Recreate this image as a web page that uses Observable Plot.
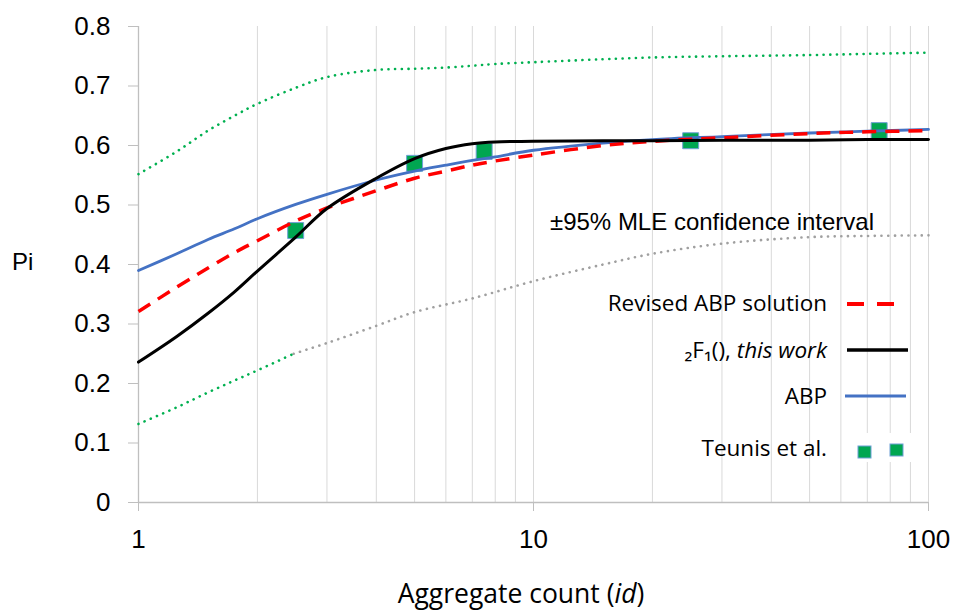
<!DOCTYPE html>
<html><head><meta charset="utf-8">
<script src="https://cdn.jsdelivr.net/npm/d3@7"></script>
<script src="https://cdn.jsdelivr.net/npm/@observablehq/plot@0.6"></script>
<style>body{margin:0;background:#fff}</style>
</head><body><div id="chart"></div>
<script>
// Aggregate count (x) sample points for the model curves
const xs = [1, 1.25, 1.5, 1.75, 2, 2.5, 3, 4, 5, 6, 7, 8, 10, 15, 20, 30, 50, 70, 100];
// 2F1(), this work
const f21Y = [0.236, 0.279, 0.318, 0.354, 0.389, 0.446, 0.494, 0.545, 0.578, 0.595, 0.603, 0.606, 0.607, 0.608, 0.608, 0.609, 0.609, 0.61, 0.61];
// ABP
const abpY = [0.39, 0.418, 0.442, 0.46, 0.477, 0.501, 0.518, 0.542, 0.557, 0.567, 0.575, 0.581, 0.592, 0.604, 0.61, 0.615, 0.621, 0.624, 0.627];
// Revised ABP solution
const revY = [0.321, 0.362, 0.394, 0.42, 0.44, 0.473, 0.495, 0.524, 0.545, 0.557, 0.567, 0.574, 0.584, 0.6, 0.607, 0.613, 0.62, 0.623, 0.625];
// +95% confidence bound (upper)
const upperY = [0.552, 0.59, 0.625, 0.65, 0.67, 0.697, 0.715, 0.727, 0.729, 0.731, 0.734, 0.737, 0.74, 0.745, 0.748, 0.75, 0.752, 0.754, 0.756];
// -95% confidence bound (lower), green part
const lowerGreenX = [1, 1.25, 1.5, 1.75, 2, 2.47];
const lowerGreenY = [0.132, 0.16, 0.185, 0.205, 0.222, 0.25];
// -95% confidence bound (lower), grey part
const lowerGreyX = [2.47, 3, 4, 5, 7, 10, 15, 20, 30, 50, 70, 100];
const lowerGreyY = [0.25, 0.268, 0.297, 0.32, 0.343, 0.372, 0.4, 0.418, 0.435, 0.446, 0.448, 0.449];
// Teunis et al. data
const teunisX = [2.5, 5, 7.5, 25, 75];
const teunisY = [0.457, 0.57, 0.59, 0.608, 0.625];
// Axis ticks
const xTicks = [1, 10, 100];
const yTicks = [0, 0.1, 0.2, 0.3, 0.4, 0.5, 0.6, 0.7, 0.8];
const gridX = [2, 3, 4, 5, 6, 7, 8, 9, 10, 20, 30, 40, 50, 60, 70, 80, 90, 100];

const pts = (X, Y) => X.map((x, i) => ({x, y: Y[i]}));
const dotted = {strokeWidth: 2.6, strokeDasharray: "0.1,6.6", strokeLinecap: "round", curve: "catmull-rom"};

const plot = Plot.plot({
  width: 955, height: 612,
  marginLeft: 138, marginRight: 27, marginTop: 26, marginBottom: 110,
  style: {fontFamily: "'Liberation Sans', Arial, sans-serif", background: "#fff", color: "#000"},
  x: {type: "log", domain: [1, 100]},
  y: {domain: [0, 0.8]},
  marks: [
    Plot.ruleX(gridX, {y1: 0, y2: 0.8, stroke: "#d9d9d9", strokeWidth: 1}),
    Plot.ruleX([1], {y1: 0, y2: 0.8, stroke: "#bfbfbf", strokeWidth: 1.3}),
    Plot.ruleY([0], {x1: 1, x2: 100, stroke: "#bfbfbf", strokeWidth: 1.3}),
    Plot.axisY({ticks: yTicks, tickFormat: d => d === 0 ? "0" : d.toFixed(1), tickSize: 10, tickPadding: 18, stroke: "#bfbfbf", fill: "#000", fontSize: 26, label: null}),
    Plot.axisX({ticks: xTicks, tickFormat: d => String(d), tickSize: 9, tickPadding: 18, stroke: "#bfbfbf", fill: "#000", fontSize: 26, label: null}),
    Plot.dot(pts(teunisX, teunisY), {x: "x", y: "y", symbol: "square", r: 9, fill: "#00a651", stroke: "#6f9fd6", strokeWidth: 1}),
    Plot.line(pts(xs, upperY), {x: "x", y: "y", stroke: "#00b050", ...dotted}),
    Plot.line(pts(lowerGreyX, lowerGreyY), {x: "x", y: "y", stroke: "#a0a0a0", ...dotted}),
    Plot.line(pts(lowerGreenX, lowerGreenY), {x: "x", y: "y", stroke: "#00b050", ...dotted}),
    Plot.line(pts(xs, abpY), {x: "x", y: "y", stroke: "#4472c4", strokeWidth: 2.8, curve: "catmull-rom"}),
    Plot.line(pts(xs, revY), {x: "x", y: "y", stroke: "#ff0000", strokeWidth: 3.5, strokeDasharray: "14,9", strokeLinecap: "butt", curve: "catmull-rom"}),
    Plot.line(pts(xs, f21Y), {x: "x", y: "y", stroke: "#000", strokeWidth: 3, curve: "catmull-rom"})
  ]
});
document.getElementById("chart").appendChild(plot);

// Labels and legend
const svg = d3.select(plot);
const calibri = "'Open Sans', Lato, sans-serif";
svg.append("text").attr("x", 12).attr("y", 270).attr("font-size", 24).attr("text-anchor", "start")
  .attr("font-family", "'Liberation Sans', Arial, sans-serif").attr("fill", "#000").text("Pi");
const xl = svg.append("text").attr("x", 521).attr("y", 603).attr("text-anchor", "middle")
  .attr("font-size", 26.5).attr("font-family", calibri).attr("fill", "#000");
xl.append("tspan").text("Aggregate count (");
xl.append("tspan").attr("font-style", "italic").text("id");
xl.append("tspan").text(")");

svg.append("text").attr("x", 550).attr("y", 230).attr("font-size", 24).attr("text-anchor", "start")
  .attr("font-family", "'Liberation Sans', Arial, sans-serif").attr("fill", "#000")
  .text("\u00B195% MLE confidence interval");

const lg = svg.append("g").attr("font-family", calibri).attr("font-size", 22.5).attr("fill", "#000");
lg.append("rect").attr("x", 845).attr("y", 433).attr("width", 70).attr("height", 29).attr("fill", "#fff");
const entries = [
  {y: 303, label: "Revised ABP solution"},
  {y: 350, label: "F21"},
  {y: 396, label: "ABP"},
  {y: 448, label: "Teunis et al."}
];
entries.forEach(e => {
  const t = lg.append("text").attr("x", 827).attr("y", e.y).attr("dy", "0.35em").attr("text-anchor", "end");
  if (e.label === "F21") {
    t.append("tspan").text("\u2082F\u2081(), ");
    t.append("tspan").attr("font-style", "italic").text("this work");
  } else t.text(e.label);
});
lg.append("line").attr("x1", 847).attr("x2", 894).attr("y1", 304).attr("y2", 304)
  .attr("stroke", "#ff0000").attr("stroke-width", 4).attr("stroke-dasharray", "17,13");
lg.append("line").attr("x1", 847).attr("x2", 908).attr("y1", 350).attr("y2", 350)
  .attr("stroke", "#000").attr("stroke-width", 3.5);
lg.append("line").attr("x1", 845).attr("x2", 906).attr("y1", 396).attr("y2", 396)
  .attr("stroke", "#4472c4").attr("stroke-width", 3);
[[858, 446], [890, 444]].forEach(([x, y]) => lg.append("rect").attr("x", x).attr("y", y)
  .attr("width", 13).attr("height", 12).attr("fill", "#00a651").attr("stroke", "#6f9fd6").attr("stroke-width", 1));
</script></body></html>
